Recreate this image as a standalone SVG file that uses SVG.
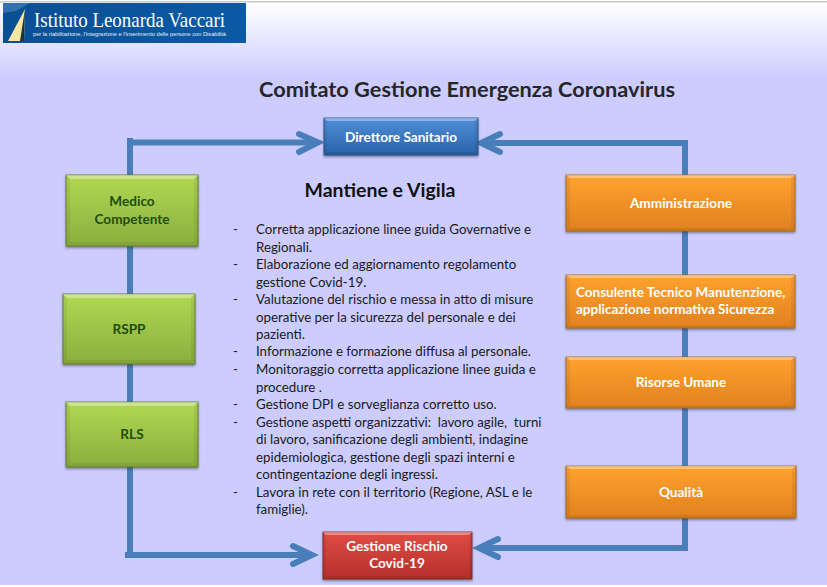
<svg xmlns="http://www.w3.org/2000/svg" width="827" height="587" viewBox="0 0 827 587">
<defs>
<linearGradient id="bg" x1="0" y1="0" x2="0" y2="1"><stop offset="0" stop-color="#fff"/><stop offset="1" stop-color="#ccccfe"/></linearGradient>
<linearGradient id="logo" x1="0" y1="0" x2="1" y2="0"><stop offset="0" stop-color="#0a4f94"/><stop offset="1" stop-color="#0a5aa6"/></linearGradient>
<linearGradient id="blue" x1="0" y1="0" x2="0" y2="1"><stop offset="0" stop-color="#4f8fd8"/><stop offset="1" stop-color="#2a62a8"/></linearGradient>
<linearGradient id="green" x1="0" y1="0" x2="0" y2="1"><stop offset="0" stop-color="#b0d852"/><stop offset="1" stop-color="#8bae3e"/></linearGradient>
<linearGradient id="orange" x1="0" y1="0" x2="0" y2="1"><stop offset="0" stop-color="#ffa22f"/><stop offset="1" stop-color="#e0811e"/></linearGradient>
<linearGradient id="red" x1="0" y1="0" x2="0" y2="1"><stop offset="0" stop-color="#e04c46"/><stop offset="1" stop-color="#b52f2b"/></linearGradient>
<filter id="sh" x="-5%" y="-10%" width="110%" height="125%"><feDropShadow dx="0" dy="1.5" stdDeviation="1.2" flood-color="#333" flood-opacity=".55"/></filter>
</defs>
<style>
text{font-family:"Lato","Open Sans","Liberation Sans",sans-serif}
.c{fill:none;stroke:#4a7ebb;stroke-width:6}
.h{fill:none;stroke:#4a7ebb;stroke-width:6;stroke-linecap:round;stroke-linejoin:miter}
.b{font-size:13.3px;fill:#1a1a1a}
.n{font-size:13.6px;font-weight:700;text-anchor:middle}
.w{fill:#fff}.g{fill:#1f4d0c}
.t{fill:#fff;opacity:.35}
.d{fill:#000;opacity:.06}
</style>
<rect width="827" height="587" fill="#fff"/>
<rect y="1" width="827" height="1.5" fill="#c8c8c8"/>
<rect y="3" width="827" height="75" fill="url(#bg)"/>
<rect y="78" width="827" height="507" fill="#ccccfe"/>
<g id="logo-banner">
<rect x="3" y="3" width="243" height="40" fill="url(#logo)"/>
<path d="M3 3H30L16 11 3 13Z" fill="#5e93c8" opacity=".5"/>
<path d="M25 9 8 41H24Z" fill="#f4e7a2"/><path d="M25 9 24 41H20Z" fill="#22303a"/>
<text x="34" y="27" font-size="21" fill="#fff" textLength="191" lengthAdjust="spacingAndGlyphs" style="font-family:'Liberation Serif',serif">Istituto Leonarda Vaccari</text>
<text x="33" y="35.500" font-size="5" fill="#e6eef6" textLength="193" lengthAdjust="spacingAndGlyphs" style="font-family:'Liberation Sans',sans-serif">per la riabilitazione, l'integrazione e l'inserimento delle persone con Disabilità</text>
</g>
<text id="title" x="467" y="97" font-size="21" font-weight="700" fill="#262626" text-anchor="middle" textLength="416" lengthAdjust="spacingAndGlyphs">Comitato Gestione Emergenza Coronavirus</text>
<g id="connectors">
<path class="c" d="M130 138V556"/><path class="c" d="M127 142.500H316"/><path class="h" d="M299 134 318 142.500 299 152"/>
<path class="c" d="M125 555H311"/><path class="h" d="M293 546 312 555 293 564"/>
<path class="c" d="M685 140V551"/><path class="c" d="M688 143H483"/><path class="h" d="M500 134 481 143 500 152"/>
<path class="c" d="M688 548H481"/><path class="h" d="M498 539 479 548 498 557"/>
</g>
<g id="direttore"><rect x="324" y="118" width="154" height="37" fill="url(#blue)" stroke="#264f82" stroke-width=".8" filter="url(#sh)"/><path class="t" d="M324 118H478L475 121H327Z"/><path class="d" d="M324 118 327 121V152L324 155ZM478 118 475 121V152L478 155ZM324 155 327 152H475L478 155Z"/><text class="n w" x="401" y="142">Direttore Sanitario</text></g>
<g id="medico"><rect x="66" y="175" width="132" height="71" fill="url(#green)" stroke="#5e7a2a" stroke-width=".8" filter="url(#sh)"/><path class="t" d="M66 175H198L194 179H70Z"/><path class="d" d="M66 175 70 179V242L66 246ZM198 175 194 179V242L198 246ZM66 246 70 242H194L198 246Z"/><text class="n g" x="132" y="206">Medico</text><text class="n g" x="132" y="224">Competente</text></g>
<g id="rspp"><rect x="63" y="294" width="132" height="70" fill="url(#green)" stroke="#5e7a2a" stroke-width=".8" filter="url(#sh)"/><path class="t" d="M63 294H195L191 298H67Z"/><path class="d" d="M63 294 67 298V360L63 364ZM195 294 191 298V360L195 364ZM63 364 67 360H191L195 364Z"/><text class="n g" x="129" y="334">RSPP</text></g>
<g id="rls"><rect x="66" y="402" width="132" height="65" fill="url(#green)" stroke="#5e7a2a" stroke-width=".8" filter="url(#sh)"/><path class="t" d="M66 402H198L194 406H70Z"/><path class="d" d="M66 402 70 406V463L66 467ZM198 402 194 406V463L198 467ZM66 467 70 463H194L198 467Z"/><text class="n g" x="132" y="439">RLS</text></g>
<g id="amministrazione"><rect x="566" y="175" width="229" height="56" fill="url(#orange)" stroke="#a8661c" stroke-width=".8" filter="url(#sh)"/><path class="t" d="M566 175H795L791 178H570Z"/><path class="d" d="M566 175 570 178V228L566 231ZM795 175 791 178V228L795 231ZM566 231 570 228H791L795 231Z"/><text class="n w" x="681" y="208">Amministrazione</text></g>
<g id="consulente"><rect x="566" y="275" width="229" height="53" fill="url(#orange)" stroke="#a8661c" stroke-width=".8" filter="url(#sh)"/><path class="t" d="M566 275H795L791 278H570Z"/><path class="d" d="M566 275 570 278V325L566 328ZM795 275 791 278V325L795 328ZM566 328 570 325H791L795 328Z"/><text class="w" x="576" y="297" font-size="13.500" font-weight="700">Consulente Tecnico Manutenzione,</text><text class="w" x="576" y="314" font-size="13.500" font-weight="700">applicazione normativa Sicurezza</text></g>
<g id="risorse"><rect x="566" y="357" width="229" height="51" fill="url(#orange)" stroke="#a8661c" stroke-width=".8" filter="url(#sh)"/><path class="t" d="M566 357H795L791 360H570Z"/><path class="d" d="M566 357 570 360V405L566 408ZM795 357 791 360V405L795 408ZM566 408 570 405H791L795 408Z"/><text class="n w" x="681" y="387">Risorse Umane</text></g>
<g id="qualita"><rect x="566" y="466" width="230" height="52" fill="url(#orange)" stroke="#a8661c" stroke-width=".8" filter="url(#sh)"/><path class="t" d="M566 466H796L792 469H570Z"/><path class="d" d="M566 466 570 469V515L566 518ZM796 466 792 469V515L796 518ZM566 518 570 515H792L796 518Z"/><text class="n w" x="681" y="497">Qualità</text></g>
<g id="gestione"><rect x="323" y="532" width="149" height="47" fill="url(#red)" stroke="#7d2422" stroke-width=".8" filter="url(#sh)"/><path class="t" d="M323 532H472L469 535H326Z"/><path class="d" d="M323 532 326 535V576L323 579ZM472 532 469 535V576L472 579ZM323 579 326 576H469L472 579Z"/><text class="n w" x="397" y="551">Gestione Rischio</text><text class="n w" x="397" y="568">Covid-19</text></g>
<text id="subtitle" x="380" y="197" font-size="19.500" font-weight="700" fill="#111" text-anchor="middle">Mantiene e Vigila</text>
<g id="list">
<text class="b" x="233" y="234">-</text><text class="b" x="256" y="234">Corretta applicazione linee guida Governative e</text>
<text class="b" x="256" y="252">Regionali.</text>
<text class="b" x="233" y="269">-</text><text class="b" x="256" y="269">Elaborazione ed aggiornamento regolamento</text>
<text class="b" x="256" y="287">gestione Covid-19.</text>
<text class="b" x="233" y="304">-</text><text class="b" x="256" y="304">Valutazione del rischio e messa in atto di misure</text>
<text class="b" x="256" y="322">operative per la sicurezza del personale e dei</text>
<text class="b" x="256" y="339">pazienti.</text>
<text class="b" x="233" y="356">-</text><text class="b" x="256" y="356">Informazione e formazione diffusa al personale.</text>
<text class="b" x="233" y="374">-</text><text class="b" x="256" y="374">Monitoraggio corretta applicazione linee guida e</text>
<text class="b" x="256" y="392">procedure .</text>
<text class="b" x="233" y="409">-</text><text class="b" x="256" y="409">Gestione DPI e sorveglianza corretto uso.</text>
<text class="b" x="233" y="427">-</text><text class="b" x="256" y="427" xml:space="preserve">Gestione aspetti organizzativi:  lavoro agile,  turni</text>
<text class="b" x="256" y="444">di lavoro, sanificazione degli ambienti, indagine</text>
<text class="b" x="256" y="462">epidemiologica, gestione degli spazi interni e</text>
<text class="b" x="256" y="479">contingentazione degli ingressi.</text>
<text class="b" x="233" y="497">-</text><text class="b" x="256" y="497">Lavora in rete con il territorio (Regione, ASL e le</text>
<text class="b" x="256" y="514">famiglie).</text>
</g>
</svg>
